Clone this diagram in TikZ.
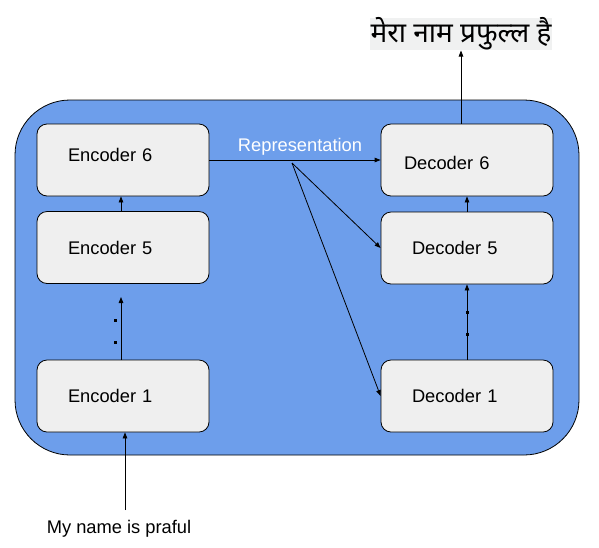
\documentclass[tikz,border=0pt]{standalone}
\usepackage{fontspec}
\setmainfont{Liberation Sans}
\newfontfamily\deva[Script=Devanagari]{Noto Sans}
\usetikzlibrary{arrows.meta,calc}
\definecolor{stackblue}{HTML}{6D9EEB}
\definecolor{boxgray}{HTML}{EFEFEF}
\definecolor{targetbg}{HTML}{F0F1F1}
\begin{document}
\begin{tikzpicture}[
    x=1pt, y=-1pt,
    every node/.style={font=\fontsize{18.3}{22}\selectfont},
    stack/.style={draw, fill=stackblue, rounded corners=55pt, minimum width=564pt, minimum height=355pt, line width=0.8pt},
    layer/.style={draw, fill=boxgray, rounded corners=10pt, minimum width=172pt, minimum height=72pt, inner xsep=31pt, text width=110pt, align=left, line width=0.8pt},
    arr/.style={-{Triangle[length=6pt, width=4.5pt]}, line width=0.8pt},
    dot/.style={fill, inner sep=0pt, minimum size=3pt},
]
    \useasboundingbox (0,0) rectangle (599,547);
    % Outer block
    \node[stack] (model) at (297,277.5) {};
    % Encoders
    \node[layer, text depth=10pt] (enc6) at (123,160) {Encoder 6};
    \node[layer] (enc5) at (123,247.5) {Encoder 5};
    \node[layer] (enc1) at (123,396) {Encoder 1};
    % Decoders
    \node[layer, inner xsep=23pt, text width=126pt, text height=19pt] (dec6) at (467,160) {Decoder 6};
    \node[layer] (dec5) at (467,248) {Decoder 5};
    \node[layer] (dec1) at (467,396) {Decoder 1};
    % Input / output
    \node (src) at (119,529) {My name is praful};
    \node[fill=targetbg, inner xsep=1pt, inner ysep=0pt, font=\deva\fontsize{28}{31}\selectfont] (tgt) at (461,34) {मेरा नाम प्रफुल्ल है};
    \coordinate (srcTop) at (125,510);
    \coordinate (encGap) at (121,297);
    \coordinate (split) at (292,163);
    % Encoder side
    \draw[arr] (srcTop) -- (srcTop |- enc1.south);
    \draw[arr] (encGap |- enc1.north) -- (encGap);
    \node[dot] (ed1) at (115,320) {};
    \node[dot] (ed2) at (115,342) {};
    \draw[arr] (encGap |- enc5.north) -- (encGap |- enc6.south);
    % Representation
    \draw[arr] (enc6.east) -- (dec6.west) node[midway, above=1pt, xshift=5pt, text=white] {Representation};
    \draw[arr] (split) -- (dec5.west);
    \draw[arr] (split) -- (dec1.west);
    % Decoder side
    \draw[arr] (dec1.north) -- (dec5.south);
    \node[dot] (dd1) at (467,312) {};
    \node[dot] (dd2) at (467,334) {};
    \draw[arr] (dec5.north) -- (dec6.south);
    \draw[arr] (dec6.north -| tgt.south) -- (tgt.south);
\end{tikzpicture}
\end{document}
